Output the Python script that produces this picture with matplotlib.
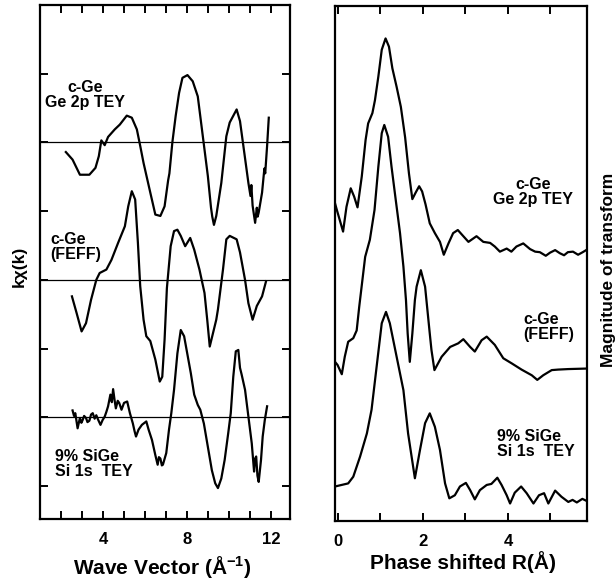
import matplotlib
matplotlib.use("Agg")
import matplotlib.pyplot as plt

plt.rcParams['font.family'] = ['Liberation Sans', 'DejaVu Sans']
plt.rcParams['font.weight'] = 'bold'
plt.rcParams['mathtext.fontset'] = 'custom'
plt.rcParams['mathtext.rm'] = 'Liberation Sans:bold'
plt.rcParams['mathtext.bf'] = 'Liberation Sans:bold'

# ---- left panel: k*chi(k), curves offset by 2 units ----
k_tey = [2.23, 2.55, 2.90, 3.35, 3.64, 3.80, 3.92, 4.08, 4.24, 4.56, 4.80, 5.13, 5.37, 5.61, 5.77,
         5.93, 6.25, 6.49, 6.73, 6.93, 7.10, 7.16, 7.30, 7.46, 7.62, 7.78, 8.02, 8.27, 8.51, 8.75,
         8.99, 9.14, 9.20, 9.28, 9.39, 9.63, 9.87, 10.03, 10.36, 10.52, 10.68, 10.92, 11.02, 11.06,
         11.12, 11.24, 11.32, 11.36, 11.41, 11.57, 11.68, 11.72, 11.81, 11.89]
chi_tey = [4.86, 4.75, 4.53, 4.53, 4.63, 4.80, 5.03, 4.96, 5.08, 5.19, 5.26, 5.39, 5.36, 5.19, 4.95,
           4.70, 4.27, 3.95, 3.93, 4.07, 4.45, 4.55, 5.00, 5.39, 5.72, 5.94, 5.98, 5.89, 5.67, 5.09,
           4.51, 4.05, 3.92, 3.80, 3.93, 4.41, 5.09, 5.29, 5.48, 5.31, 4.95, 4.41, 4.22, 4.38,
           4.08, 3.83, 4.05, 3.92, 3.98, 4.27, 4.62, 4.55, 4.95, 5.36]

k_feff = [2.52, 2.74, 2.98, 3.19, 3.43, 3.68, 3.84, 4.16, 4.40, 4.72, 5.04, 5.20, 5.37, 5.53, 5.66,
          5.77, 5.93, 6.06, 6.25, 6.49, 6.70, 6.82, 6.93, 7.04, 7.22, 7.38, 7.54, 7.70, 7.91, 8.15,
          8.34, 8.59, 8.83, 8.96, 9.08, 9.39, 9.47, 9.71, 9.87, 10.03, 10.36, 10.52, 10.76, 10.92,
          11.12, 11.32, 11.57, 11.76]
chi_feff = [2.76, 2.52, 2.25, 2.37, 2.71, 3.00, 3.10, 3.15, 3.29, 3.54, 3.78, 4.07, 4.29, 4.17, 3.54,
            2.91, 2.42, 2.18, 2.11, 1.84, 1.52, 1.59, 2.13, 2.88, 3.49, 3.71, 3.73, 3.64, 3.49, 3.61,
            3.44, 3.15, 2.81, 2.42, 2.03, 2.42, 2.57, 3.15, 3.59, 3.64, 3.59, 3.40, 3.00, 2.66,
            2.42, 2.62, 2.76, 2.98]

k_sige = [2.55, 2.62, 2.68, 2.79, 2.90, 2.97, 3.03, 3.10, 3.19, 3.26, 3.35, 3.43, 3.51, 3.60, 3.68,
          3.76, 3.88, 3.98, 4.08, 4.16, 4.24, 4.35, 4.42, 4.48, 4.55, 4.61, 4.70, 4.77, 4.88, 5.00,
          5.15, 5.28, 5.42, 5.50, 5.57, 5.69, 5.85, 6.06, 6.17, 6.33, 6.49, 6.60, 6.66, 6.73, 6.80,
          6.85, 7.01, 7.14, 7.25, 7.38, 7.54, 7.70, 7.86, 8.02, 8.18, 8.34, 8.51, 8.63, 8.80, 8.99,
          9.18, 9.34, 9.47, 9.63, 9.79, 9.96, 10.08, 10.20, 10.32, 10.44, 10.52, 10.60, 10.76, 10.92,
          11.08, 11.19, 11.24, 11.29, 11.35, 11.41, 11.52, 11.60, 11.70, 11.81]
chi_sige = [1.10, 1.02, 1.06, 0.84, 0.99, 0.92, 0.96, 1.02, 0.99, 0.93, 0.95, 1.04, 1.06, 0.98, 1.03,
            0.97, 0.89, 0.96, 1.01, 1.08, 1.16, 1.33, 1.22, 1.41, 1.25, 1.13, 1.24, 1.21, 1.11, 1.21,
            1.23, 1.06, 0.91, 0.80, 0.72, 0.82, 0.89, 0.94, 0.82, 0.67, 0.45, 0.31, 0.42, 0.40, 0.30,
            0.31, 0.48, 0.82, 1.06, 1.40, 1.93, 2.27, 2.18, 1.91, 1.64, 1.33, 1.18, 1.11, 0.91, 0.57,
            0.23, 0.04, -0.03, 0.11, 0.38, 0.77, 1.06, 1.59, 1.96, 1.98, 1.72, 1.62, 1.40, 1.01,
            0.62, 0.21, 0.40, 0.43, 0.15, 0.06, 0.38, 0.72, 0.96, 1.16]

baselines = [1, 3, 5]

# ---- right panel: magnitude of Fourier transform (arb. units, offset) ----
r_tey = [-0.07, -0.03, 0.12, 0.20, 0.30, 0.38, 0.46, 0.56, 0.65, 0.71, 0.81, 0.87, 0.95, 1.03, 1.12,
         1.20, 1.28, 1.38, 1.48, 1.58, 1.67, 1.75, 1.83, 1.91, 1.98, 2.06, 2.16, 2.28, 2.40, 2.49,
         2.60, 2.71, 2.82, 2.95, 3.07, 3.26, 3.42, 3.58, 3.69, 3.81, 3.97, 4.08, 4.20, 4.36, 4.52,
         4.64, 4.75, 4.89, 4.99, 5.11, 5.22, 5.32, 5.41, 5.53, 5.65, 5.76, 5.84]
ft_tey = [6.17, 6.05, 5.62, 6.10, 6.46, 6.30, 6.09, 6.69, 7.40, 7.72, 7.92, 8.17, 8.63, 9.15, 9.37,
          9.21, 8.79, 8.43, 8.04, 7.45, 6.75, 6.25, 6.38, 6.50, 6.40, 6.15, 5.78, 5.59, 5.42, 5.17,
          5.39, 5.59, 5.65, 5.53, 5.42, 5.53, 5.42, 5.40, 5.33, 5.23, 5.29, 5.23, 5.33, 5.39, 5.28,
          5.23, 5.22, 5.15, 5.21, 5.26, 5.20, 5.16, 5.22, 5.23, 5.17, 5.22, 5.26]

r_feff = [-0.07, -0.01, 0.09, 0.16, 0.24, 0.36, 0.44, 0.50, 0.64, 0.75, 0.86, 0.95, 1.03, 1.09, 1.18,
          1.26, 1.36, 1.46, 1.54, 1.60, 1.64, 1.69, 1.75, 1.81, 1.85, 1.95, 2.05, 2.16, 2.20, 2.27,
          2.44, 2.64, 2.83, 2.95, 3.11, 3.22, 3.38, 3.50, 3.69, 3.89, 4.09, 4.32, 4.56, 4.69, 4.83,
          5.03, 5.18, 5.42, 5.85]
ft_feff = [3.09, 3.03, 2.85, 3.19, 3.48, 3.55, 3.70, 4.16, 5.13, 5.46, 6.04, 6.88, 7.53, 7.69, 7.46,
           6.88, 6.23, 5.59, 4.94, 4.29, 3.64, 3.09, 3.64, 4.29, 4.55, 4.87, 4.55, 3.64, 3.32, 2.93,
           3.19, 3.38, 3.45, 3.53, 3.38, 3.29, 3.51, 3.58, 3.42, 3.16, 3.06, 2.94, 2.83, 2.74, 2.83,
           2.93, 2.94, 2.95, 2.96]

r_sige = [-0.07, 0.24, 0.36, 0.52, 0.68, 0.79, 0.91, 1.03, 1.13, 1.22, 1.38, 1.54, 1.65, 1.81, 1.93,
          2.05, 2.16, 2.28, 2.40, 2.52, 2.62, 2.75, 2.87, 3.01, 3.11, 3.22, 3.34, 3.50, 3.61, 3.75,
          3.85, 3.97, 4.05, 4.16, 4.31, 4.44, 4.60, 4.73, 4.85, 4.95, 5.11, 5.26, 5.42, 5.52, 5.62,
          5.75, 5.85]
ft_sige = [0.67, 0.73, 0.86, 1.25, 1.70, 2.16, 3.00, 3.84, 4.06, 3.84, 3.19, 2.54, 1.70, 0.83, 1.38,
           1.90, 2.09, 1.83, 1.38, 0.73, 0.44, 0.50, 0.67, 0.74, 0.60, 0.42, 0.60, 0.70, 0.72, 0.84,
           0.70, 0.50, 0.34, 0.55, 0.67, 0.54, 0.34, 0.50, 0.54, 0.34, 0.59, 0.47, 0.37, 0.41, 0.36,
           0.43, 0.39]

labels = ["c-Ge\nGe 2p TEY", "c-Ge\n(FEFF)", "9% SiGe\nSi 1s  TEY"]

fig = plt.figure(figsize=(6.15, 5.84), dpi=100)
axL = fig.add_axes([40/615, 1-519/584, 250/615, 514/584])
axR = fig.add_axes([335/615, 1-521/584, 252/615, 515/584])

lw = 1.6
for ax in (axL, axR):
    for s in ax.spines.values():
        s.set_linewidth(1.6)

# left
for b in baselines:
    axL.axhline(b, color="black", lw=0.9, zorder=1)
axL.plot(k_tey, chi_tey, color="black", lw=lw)
axL.plot(k_feff, chi_feff, color="black", lw=lw)
axL.plot(k_sige, chi_sige, color="black", lw=lw)
axL.set_xlim(1.0, 12.9)
axL.set_ylim(-0.48, 7.0)
axL.set_xticks(range(2, 13))
axL.set_xticklabels([str(t) if t in (4, 8, 12) else "" for t in range(2, 13)])
axL.set_yticks(range(0, 7))
axL.set_yticklabels([])
axL.tick_params(direction="in", top=True, right=True, length=6, width=1.4,
                labelsize=12, pad=9)
axL.set_xlabel("Wave Vector (Å$^{-1}$)", fontsize=15, fontweight="bold")
axL.xaxis.set_label_coords(0.49, -0.068)

axL.text(0.18, 0.854, labels[0], transform=axL.transAxes, ha="center", va="top",
         fontsize=11.5, fontweight="bold", linespacing=1.0)
axL.text(0.04, 0.558, labels[1], transform=axL.transAxes, ha="left", va="top",
         fontsize=11.5, fontweight="bold", linespacing=1.0)
axL.text(0.06, 0.136, labels[2], transform=axL.transAxes, ha="left", va="top",
         fontsize=11.5, fontweight="bold", linespacing=1.0)

# right
axR.plot(r_tey, ft_tey, color="black", lw=lw)
axR.plot(r_feff, ft_feff, color="black", lw=lw)
axR.plot(r_sige, ft_sige, color="black", lw=lw)
axR.set_xlim(-0.07, 5.86)
axR.set_ylim(0, 10)
axR.set_xticks(range(0, 6))
axR.set_xticklabels([str(t) if t in (0, 2, 4) else "" for t in range(0, 6)])
axR.set_yticks([])
axR.tick_params(direction="in", top=True, length=6, width=1.4, labelsize=12, pad=9)
axR.set_xlabel("Phase shifted R(Å)", fontsize=15, fontweight="bold")
axR.xaxis.set_label_coords(0.508, -0.058)

axR.text(0.786, 0.668, labels[0], transform=axR.transAxes, ha="center", va="top",
         fontsize=11.5, fontweight="bold", linespacing=1.0)
axR.text(0.746, 0.406, labels[1], transform=axR.transAxes, ha="left", va="top",
         fontsize=11.5, fontweight="bold", linespacing=1.0)
axR.text(0.643, 0.179, labels[2], transform=axR.transAxes, ha="left", va="top",
         fontsize=11.5, fontweight="bold", linespacing=1.0)

fig.text(19/615, 1-266/584, "kχ(k)", rotation=90, ha="center", va="center",
         fontsize=12.5, fontweight="bold")
fig.text(608/615, 1-270/584, "Magnitude of transform", rotation=90, ha="center",
         va="center", fontsize=12.5, fontweight="bold")

fig.savefig("out.png", dpi=100)
